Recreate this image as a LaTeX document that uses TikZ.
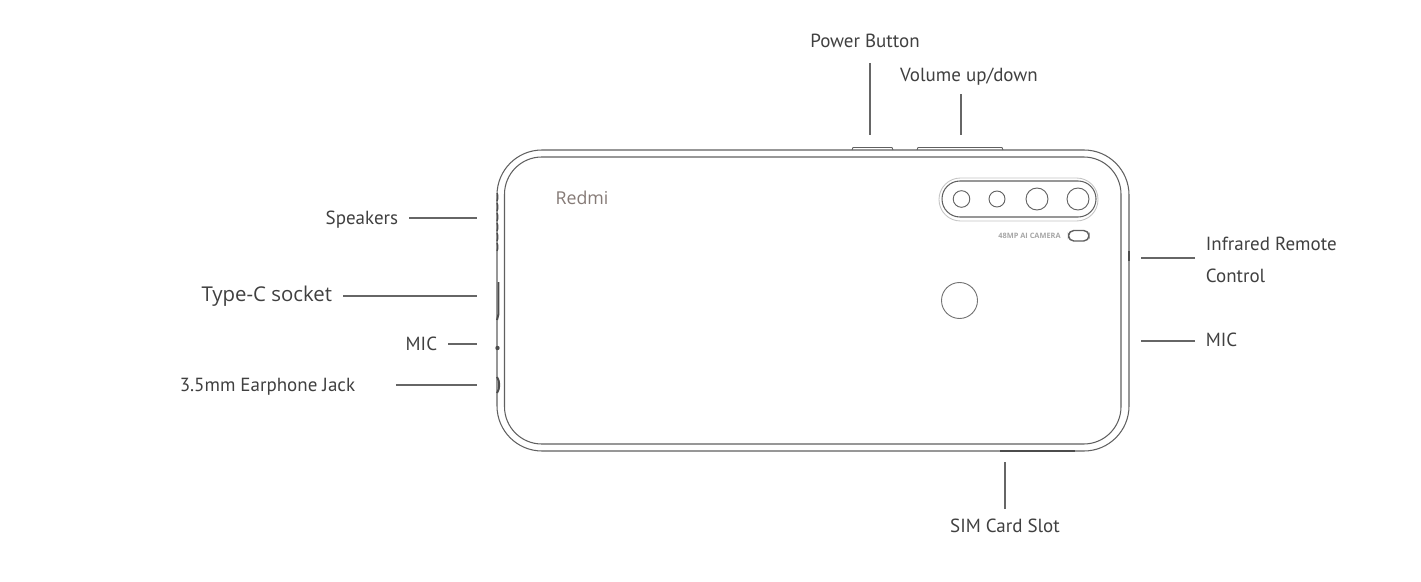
\documentclass[tikz,border=0pt]{standalone}
\usepackage{fontspec}
\setmainfont{PT Sans}
\newfontfamily\typefont{Open Sans}
\definecolor{bodyline}{HTML}{606060}
\definecolor{leaderline}{HTML}{666666}
\definecolor{labeltext}{HTML}{404040}
\definecolor{brandtext}{HTML}{857A76}
\definecolor{ringline}{HTML}{C4C4C4}

\begin{document}
\begin{tikzpicture}[x=0.01cm,y=-0.01cm]
	\tikzset{
		partlabel/.style={inner sep=0pt, outer sep=3.1pt, text=labeltext, text height=3.6pt, text depth=0pt,
			align=left, font=\fontsize{5.4}{9.1}\selectfont},
		leader/.style={draw=leaderline, line width=0.3pt},
		bodyedge/.style={draw=bodyline, line width=0.3pt},
		portedge/.style={draw=black!70, line width=0.55pt},
		lens/.style={draw=bodyline, line width=0.26pt}
	}
	\useasboundingbox (0, 0) rectangle (1421, 582);
	% body of the phone
	\draw[bodyedge, rounded corners=12.8pt] (497, 150) rectangle (1129, 451);
	\draw[bodyedge, rounded corners=10.6pt] (504.5, 157) rectangle (1121, 444);
	% buttons
	\draw[bodyedge, line width=0.25pt] (852, 150) -- (853, 147.5) -- (892, 147.5) -- (893, 150);
	\draw[bodyedge, line width=0.25pt] (917, 150) -- (918, 147.5) -- (1002, 147.5) -- (1003, 150);
	% side openings
	\foreach \y in {197, 207, 217, 227, 237, 247}
		\draw[portedge, line width=0.4pt] (497, \y - 4) .. controls (498, \y - 2) and (498, \y + 2) .. (497, \y + 4);
	\draw[portedge] (498.5, 282) -- (498.5, 314) .. controls (498.5, 317) .. (497, 320);
	\fill[black!70] (497.5, 348) circle (2.2);
	\draw[portedge] (497, 377) .. controls (500, 381) and (500, 389) .. (497, 393);
	\draw[portedge, line width=0.4pt] (1129, 251) -- (1129, 261);
	\draw[portedge, line width=0.32pt] (1000, 451) -- (1075, 451);
	% camera
	\draw[draw=ringline, line width=0.25pt, rounded corners=6.1pt] (939, 178) rectangle (1098, 221);
	\draw[bodyedge, rounded corners=5.1pt] (942, 181) rectangle (1096, 217);
	\draw[lens] (961.5, 199) circle (8.3);
	\draw[lens] (997, 199) circle (8);
	\draw[lens] (1037, 199) circle (11);
	\draw[lens] (1078, 199) circle (11);
	\draw[bodyedge, line width=0.4pt, rounded corners=1.5pt] (1068.5, 230.5) rectangle (1089, 241);
	\node[inner sep=0pt, text=black!35, font=\typefont\fontsize{2.1}{2.5}\selectfont\bfseries] (cameratext) at (1029.5, 236) {48MP AI CAMERA};
	\draw[lens, draw=black!55] (959.5, 300.5) circle (18);
	\node[inner sep=0pt, text=brandtext, font=\typefont\fontsize{5.05}{7}\selectfont] (brand) at (582, 198) {Redmi};
	% labels
	\node[partlabel, anchor=east] (speakers) at (409, 218) {Speakers};
	\node[partlabel, anchor=east, font=\typefont\fontsize{5.8}{7}\selectfont] (typec) at (343, 295.5) {Type-C socket};
	\node[partlabel, anchor=east] (micleft) at (448, 344) {MIC};
	\node[partlabel, anchor=east] (jack) at (366, 385) {3.5mm Earphone Jack};
	\node[partlabel, anchor=south] (power) at (865, 58) {Power Button};
	\node[partlabel, anchor=south] (volume) at (969, 92) {Volume up/down};
	\node[partlabel, anchor=west] (infrared) at (1195, 276) {Infrared Remote\\Control};
	\node[partlabel, anchor=west] (micright) at (1195, 340) {MIC};
	\node[partlabel, anchor=north] (sim) at (1005, 509) {SIM Card Slot};
	% leader ends
	\coordinate (speakersend) at (477, 218);
	\coordinate (typecend) at (477, 296);
	\coordinate (micleftend) at (477, 344);
	\coordinate (jackend) at (477, 385);
	\coordinate (powerend) at (870, 135);
	\coordinate (volumeend) at (961, 135);
	\coordinate (infraredend) at (1141, 258);
	\coordinate (micrightend) at (1141, 341);
	\coordinate (simend) at (1005, 462);
	\draw[leader] (speakers.east) -- (speakersend);
	\draw[leader] (typec.east |- typecend) -- (typecend);
	\draw[leader] (micleft.east) -- (micleftend);
	\draw[leader, shorten <=8.5pt] (jack.east) -- (jackend);
	\draw[leader, shorten <=1.4pt] (power.south -| powerend) -- (powerend);
	\draw[leader, shorten <=0.6pt] (volume.south -| volumeend) -- (volumeend);
	\draw[leader] (infrared.west |- infraredend) -- (infraredend);
	\draw[leader] (micright.west |- micrightend) -- (micrightend);
	\draw[leader] (sim.north) -- (simend);
\end{tikzpicture}
\end{document}
